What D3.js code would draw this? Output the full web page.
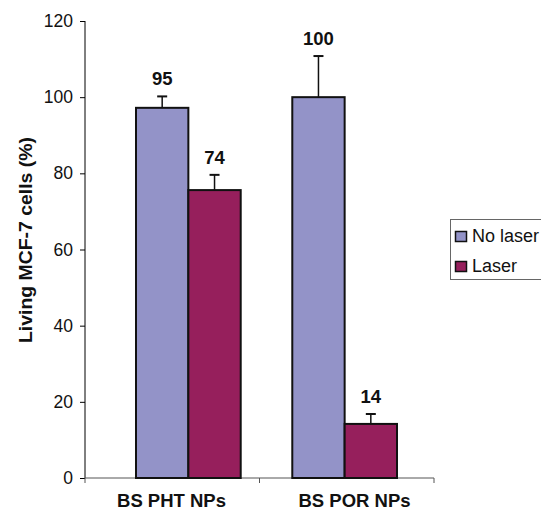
<!DOCTYPE html>
<html>
<head>
<meta charset="utf-8">
<script src="https://cdn.jsdelivr.net/npm/d3@7"></script>
<style>
  html, body { margin: 0; padding: 0; background: #fff; }
  svg { display: block; font-family: "Liberation Sans", Arial, sans-serif; }
</style>
</head>
<body>
<svg id="chart" width="541" height="513"></svg>
<script>
const categories = ["BS PHT NPs", "BS POR NPs"];
const seriesNames = ["No laser", "Laser"];
const noLaser = [97.2, 100.0];
const laser = [75.6, 14.2];
const noLaserErr = [3.0, 10.8];
const laserErr = [4.0, 2.6];
const noLaserLabels = ["95", "100"];
const laserLabels = ["74", "14"];
const yTicks = [0, 20, 40, 60, 80, 100, 120];
const colors = ["#9393C8", "#961F5C"];

const rows = [];
categories.forEach((c, i) => {
  rows.push({cat: c, series: seriesNames[0], value: noLaser[i], err: noLaserErr[i], label: noLaserLabels[i]});
  rows.push({cat: c, series: seriesNames[1], value: laser[i], err: laserErr[i], label: laserLabels[i]});
});

const svg = d3.select("#chart");
const y = d3.scaleLinear().domain([0, 120]).range([478, 21]);
const xAxisScale = d3.scaleBand().domain(categories).range([85, 434]);
const xLabelScale = d3.scaleBand().domain(categories).range([80, 446]);
const xGroup = d3.scaleBand().domain(categories).range([136, 397]).paddingInner(0.33);
const xSub = d3.scaleBand().domain(seriesNames).range([0, xGroup.bandwidth()]);
const color = d3.scaleOrdinal().domain(seriesNames).range(colors);

// Y axis
const yAxis = svg.append("g").attr("transform", "translate(85,0)")
  .call(d3.axisLeft(y).tickValues(yTicks).tickSize(5).tickPadding(7));
yAxis.select(".domain").attr("stroke", "#000").attr("d", `M0,${y(120)}V${y(0)}`);
yAxis.selectAll(".tick line").attr("stroke", "#000");
yAxis.selectAll(".tick text").attr("font-size", 17.5).attr("fill", "#111")
  .attr("font-family", "Liberation Sans, Arial, sans-serif");

// X axis
const xAxis = svg.append("g").attr("transform", `translate(0,${y(0)})`)
  .call(d3.axisBottom(xAxisScale).tickSize(0).tickFormat(""));
xAxis.select(".domain").attr("stroke", "#555").attr("d", `M85,0H434`);
const bounds = [85].concat(categories.map(c => xAxisScale(c) + xAxisScale.bandwidth()));
svg.append("g").selectAll("line").data(bounds).join("line")
  .attr("x1", d => d).attr("x2", d => d)
  .attr("y1", y(0)).attr("y2", y(0) + 5)
  .attr("stroke", "#555");
svg.append("g").selectAll("text").data(categories).join("text")
  .attr("x", d => xLabelScale(d) + xLabelScale.bandwidth() / 2)
  .attr("y", 507)
  .attr("text-anchor", "middle")
  .attr("font-weight", "bold").attr("font-size", 18.5).attr("fill", "#111")
  .text(d => d);

// Bars
const bars = svg.append("g");
bars.selectAll("rect").data(rows).join("rect")
  .attr("x", d => xGroup(d.cat) + xSub(d.series))
  .attr("y", d => y(d.value))
  .attr("width", xSub.bandwidth())
  .attr("height", d => y(0) - y(d.value))
  .attr("fill", d => color(d.series))
  .attr("stroke", "#111").attr("stroke-width", 2);

// Error bars
const eb = svg.append("g").attr("stroke", "#111").attr("stroke-width", 1.5);
rows.forEach(d => {
  const cx = xGroup(d.cat) + xSub(d.series) + xSub.bandwidth() / 2;
  eb.append("line").attr("x1", cx).attr("x2", cx)
    .attr("y1", y(d.value)).attr("y2", y(d.value + d.err));
  eb.append("line").attr("x1", cx - 5).attr("x2", cx + 5)
    .attr("y1", y(d.value + d.err)).attr("y2", y(d.value + d.err)).attr("stroke-width", 2);
});

// Value labels
svg.append("g").selectAll("text").data(rows).join("text")
  .attr("x", d => xGroup(d.cat) + xSub(d.series) + xSub.bandwidth() / 2)
  .attr("y", d => y(d.value + d.err) - 11)
  .attr("text-anchor", "middle")
  .attr("font-weight", "bold").attr("font-size", 18.5).attr("fill", "#111")
  .text(d => d.label);

// Y axis title
svg.append("text")
  .attr("transform", "translate(32,240) rotate(-90)")
  .attr("text-anchor", "middle")
  .attr("font-weight", "bold").attr("font-size", 18).attr("fill", "#111")
  .attr("textLength", 206).attr("lengthAdjust", "spacingAndGlyphs")
  .text("Living MCF-7 cells (%)");

// Legend
const lg = svg.append("g");
lg.append("rect").attr("x", 450.5).attr("y", 219.5).attr("width", 100).attr("height", 60)
  .attr("fill", "#fff").attr("stroke", "#666");
seriesNames.forEach((s, i) => {
  lg.append("rect").attr("x", 455.5).attr("y", 231.5 + i * 30).attr("width", 11).attr("height", 10)
    .attr("fill", color(s)).attr("stroke", "#111").attr("stroke-width", 1.5);
  lg.append("text").attr("x", 472).attr("y", 242 + i * 30)
    .attr("font-size", 18).attr("fill", "#111").text(s);
});
</script>
</body>
</html>
